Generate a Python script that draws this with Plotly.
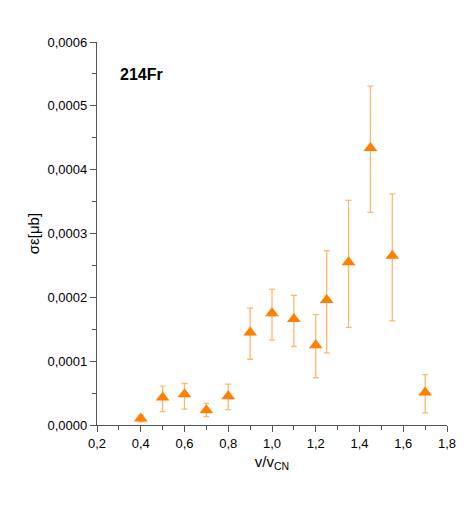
import plotly.graph_objects as go

x_vals = [0.4, 0.5, 0.6, 0.7, 0.8, 0.9, 1.0, 1.1, 1.2, 1.25, 1.35, 1.45, 1.55, 1.7]
y_vals = [0.000010, 0.000043, 0.000048, 0.000023, 0.000045, 0.000145, 0.000175, 0.000166, 0.000125, 0.000196, 0.000255, 0.000434, 0.000265, 0.000051]
y_top = [0.000015, 0.000061, 0.000065, 0.000034, 0.000064, 0.000183, 0.000213, 0.000203, 0.000173, 0.000273, 0.000352, 0.000531, 0.000362, 0.000079]
y_bot = [0.000005, 0.000021, 0.000025, 0.000013, 0.000024, 0.000103, 0.000133, 0.000123, 0.000074, 0.000113, 0.000153, 0.000333, 0.000163, 0.000019]

err_plus = [t - v for t, v in zip(y_top, y_vals)]
err_minus = [v - b for v, b in zip(y_vals, y_bot)]

font_fam = "Liberation Sans Narrow, Arial Narrow, Liberation Sans, Arial, sans-serif"

fig = go.Figure()
fig.add_trace(go.Scatter(
    x=x_vals, y=y_vals, mode="markers",
    marker=dict(symbol="triangle-up", size=12, color="#FF7F00", line=dict(width=0)),
    error_y=dict(type="data", symmetric=False, array=err_plus, arrayminus=err_minus,
                 color="#FFB870", thickness=1.3, width=3),
    showlegend=False,
))

fig.add_annotation(x=0.06, y=0.914, xref="paper", yref="paper", text="<b>214Fr</b>",
                   showarrow=False, xanchor="left", yanchor="middle",
                   font=dict(family=font_fam, size=16, color="black"))

axis_common = dict(
    showline=True, linecolor="#555555", linewidth=1.3, mirror=False,
    ticks="outside", ticklen=6, tickwidth=1.3, tickcolor="#555555",
    showgrid=False, zeroline=False, automargin=False,
    tickfont=dict(family=font_fam, size=13, color="black"),
)

fig.update_layout(
    width=473, height=521,
    margin=dict(l=89, r=34, t=34, b=104),
    paper_bgcolor="white", plot_bgcolor="white",
    separators=",.",
    xaxis=dict(range=[0.2, 1.8], dtick=0.2, tickformat=".1f",
               minor=dict(dtick=0.1, ticks="outside", ticklen=4, tickcolor="#555555", tickwidth=1.3),
               title=dict(text="v/v<sub>CN</sub>", font=dict(family=font_fam, size=15, color="black"), standoff=6),
               **axis_common),
    yaxis=dict(range=[0, 0.0006], dtick=0.0001, tickformat=".4f",
               minor=dict(dtick=0.00005, ticks="outside", ticklen=4, tickcolor="#555555", tickwidth=1.3),
               title=dict(text="σε[μb]", font=dict(family=font_fam, size=15, color="black"), standoff=4),
               **axis_common),
)

fig.write_html("out.html")
